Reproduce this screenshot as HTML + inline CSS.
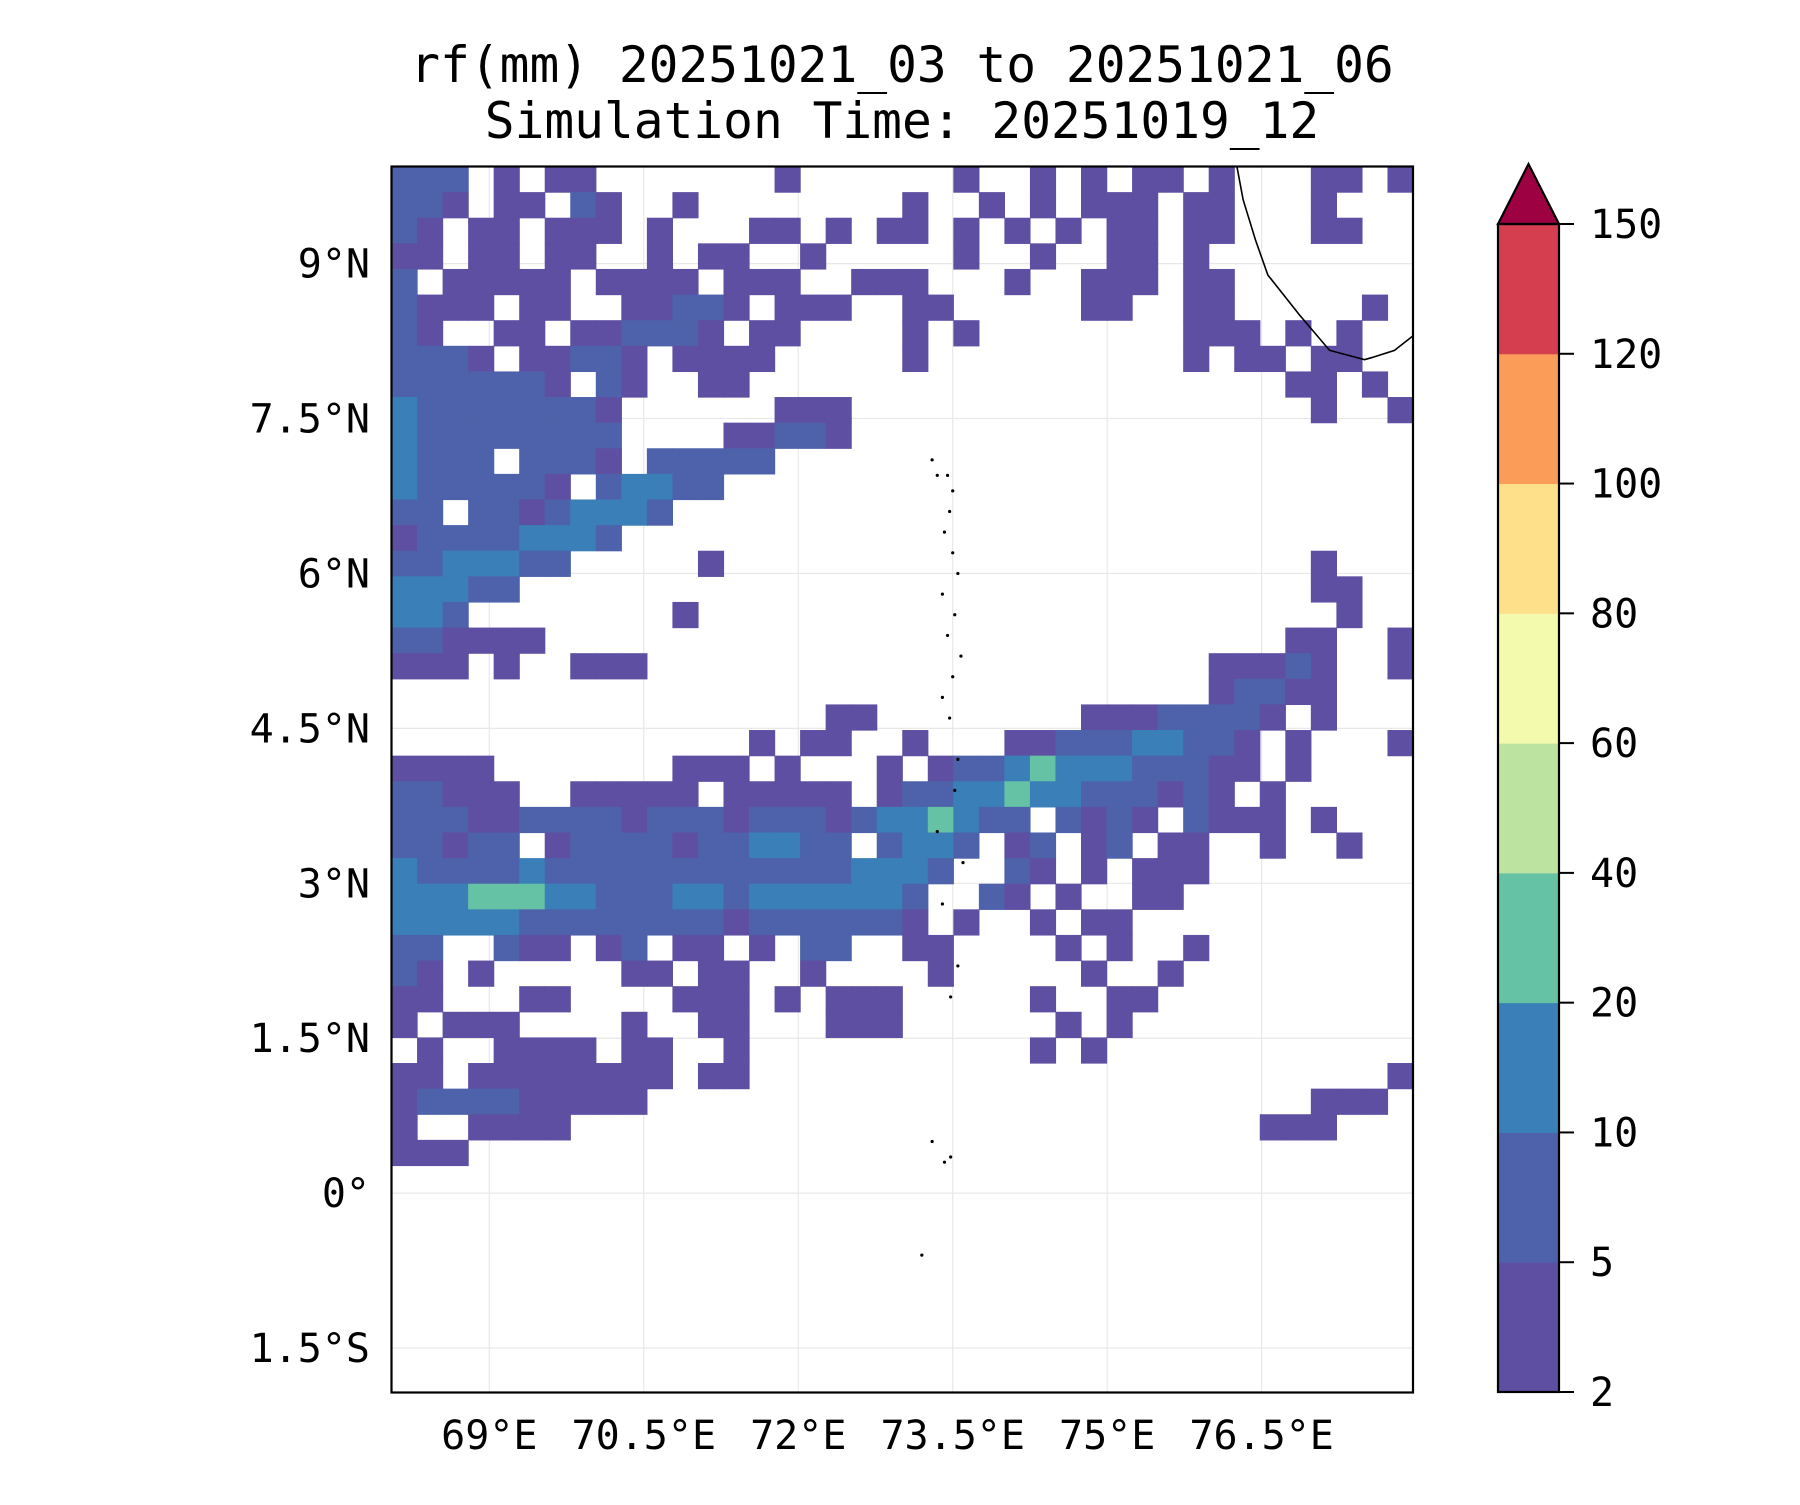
<!DOCTYPE html>
<html><head><meta charset="utf-8"><style>
html,body{margin:0;padding:0;background:#fff;}
svg text{font-family:"DejaVu Sans Mono","Liberation Mono",monospace;fill:#000;}
</style></head><body>
<svg id="fig" width="1800" height="1500" viewBox="0 0 1800 1500" xmlns="http://www.w3.org/2000/svg">
<rect width="1800" height="1500" fill="#fff"/>
<text x="902" y="82" font-size="49.5" text-anchor="middle">rf(mm) 20251021_03 to 20251021_06</text>
<text x="902" y="138" font-size="49.5" text-anchor="middle">Simulation Time: 20251019_12</text>
<g id="grid"></g>
<g id="cells"></g>
<g id="coast"></g>
<rect x="391.5" y="166.5" width="1021.5" height="1226" fill="none" stroke="#000" stroke-width="2.2"/>
<g id="xt"></g>
<g id="yt"></g>
<g id="cbar"></g>
</svg>
<script>
const levels=[2,5,10,20,40,60,80,100,120,150];
const levelColors=["#5e4fa2","#4e62ab","#3a7fb8","#66c2a5","#bce4a0","#f3faad","#fee08b","#fb9d59","#d53e4f"];
const extendColor="#9e0142";
const lonTicks=[69,70.5,72,73.5,75,76.5];
const lonTickLabels=["69°E","70.5°E","72°E","73.5°E","75°E","76.5°E"];
const latTicks=[9,7.5,6,4.5,3,1.5,0,-1.5];
const latTickLabels=["9°N","7.5°N","6°N","4.5°N","3°N","1.5°N","0°","1.5°S"];
const lonMin=68.05, lonMax=77.97, latMax=9.94, latMin=-1.93;
const gridLon0=68.05, gridLat0=9.94, cellDeg=0.248;
// rainfall level index per cell ('.' = below 2mm), rows from north to south, 40 cols
const rainRows=[
"222.1.11.. .....1.... ..1..1.1.1 1.1...11.1",
"221.11.21. .1........ 1..1.1.111 .11...1...",
"21.11.111. 1...11.1.1 1.1.1.1.11 .11...11..",
"11.11.11.. 1.11..1... ..1..1..11 .1........",
"2.11111.11 11.111..11 1...1..111 .11.......",
"2111.11..1 1221.111.. 11.....11. .11.....1.",
"21..11.112 221.11.... 1.1....... .111.1.1..",
"2221.11221 .1111..... 1......... .1.11.11..",
"2222221.21 ..11...... .......... .....11.1.",
"322222221. .....111.. .......... ......1..1",
"322222222. ...11221.. .......... ..........",
"3222.2221. 22222..... .......... ..........",
"3222221.23 322....... .......... ..........",
"22.2212333 2......... .......... ..........",
"122223332. .......... .......... ..........",
"2233322... ..1....... .......... ......1...",
"33322..... .......... .......... ......11..",
"332....... .1........ .......... .......1..",
"221111.... .......... .......... .....11..1",
"111.1..111 .......... .......... ..11121..1",
".......... .......... .......... ..12211...",
".......... .......11. .......111 22221.1...",
".......... ....1.11.. 1...112223 3221.1...1",
"1111...... .111.1...1 .122343332 2211.1....",
"22111..111 11.11111.1 2233433222 121.1.....",
"2221122221 2221222123 34322.2121 .2111.1...",
"22122.1222 21223322.2 332.12.12. 11..1..1..",
"3222232222 2222222233 32..21.1.1 11........",
"3334443322 2332333333 2..21.1..1 1.........",
"3333322222 2221222222 1.1..1.11. ..........",
"22..211.12 .11.1.22.. 11....1.1. .1........",
"21.1.....1 1.11..1... .1.....1.. 1.........",
"11...11... .111.1.111 .....1..11 ..........",
"1.111....1 ..11...111 ......1.1. ..........",
".1..1111.1 1..1...... .....1.1.. ..........",
"11.1111111 1.11...... .......... .........1",
"1222211111 .......... .......... ......111.",
"1..1111... .......... .......... ....111...",
"111....... .......... .......... ..........",
];
const coastLon=[76.26,76.32,76.44,76.56,76.87,77.16,77.5,77.57,77.79,77.97];
const coastLat=[9.94,9.62,9.23,8.89,8.5,8.16,8.07,8.09,8.16,8.3];
const islandLon=[73.3,73.35,73.45,73.5,73.47,73.42,73.5,73.55,73.4,73.52,73.45,73.58,73.5,73.4,73.47,73.55,73.52,73.35,73.6,73.4,73.55,73.48,73.3,73.42,73.48,73.2];
const islandLat=[7.1,6.95,6.95,6.8,6.6,6.4,6.2,6.0,5.8,5.6,5.4,5.2,5.0,4.8,4.6,4.2,3.9,3.5,3.2,2.8,2.2,1.9,0.5,0.3,0.35,-0.6];

const NS="http://www.w3.org/2000/svg";
const X=lon=>391.5+(lon-lonMin)/(lonMax-lonMin)*1021.5;
const Y=lat=>166.5+(latMax-lat)/(latMax-latMin)*1226;
function mk(tag,attrs,parent){const e=document.createElementNS(NS,tag);for(const k in attrs)e.setAttribute(k,attrs[k]);parent.appendChild(e);return e;}
const grid=document.getElementById('grid');
lonTicks.forEach(v=>{const l=mk('line',{x1:X(v),x2:X(v),y1:166.5,y2:1392.5,stroke:'#e8e8e8','stroke-width':1.2},grid);

});
latTicks.forEach(v=>{const l=mk('line',{x1:391.5,x2:1413,y1:Y(v),y2:Y(v),stroke:'#e8e8e8','stroke-width':1.2},grid);

});
const cells=document.getElementById('cells');
rainRows.forEach((row,r)=>{
  const s=row.replace(/ /g,'').padEnd(40,'.');
  for(let c=0;c<40;c++){const ch=s[c];if(ch==='.')continue;const k=+ch-1;
    const lonA=gridLon0+c*cellDeg, lonB=Math.min(lonA+cellDeg,lonMax);
    const latA=gridLat0-r*cellDeg, latB=latA-cellDeg;
    const e=mk('rect',{x:X(lonA),y:Y(latA),width:X(lonB)-X(lonA)+0.6,height:Y(latB)-Y(latA)+0.6,fill:levelColors[k]},cells);
    
    }
});
const coast=document.getElementById('coast');
const cp=coastLon.map((v,i)=>X(Math.min(v,lonMax))+','+Y(coastLat[i])).join(' ');
const cl=mk('polyline',{points:cp,fill:'none',stroke:'#000','stroke-width':1.6},coast);


islandLon.forEach((v,i)=>{const d=mk('circle',{cx:X(v),cy:Y(islandLat[i]),r:1.6,fill:'#000'},coast);

});
const xt=document.getElementById('xt');
lonTicks.forEach((v,i)=>{const t=mk('text',{x:X(v),y:1449,'font-size':40,'text-anchor':'middle'},xt);t.textContent=lonTickLabels[i];

});
const yt=document.getElementById('yt');
latTicks.forEach((v,i)=>{const t=mk('text',{x:370,y:Y(v)+14,'font-size':40,'text-anchor':'end'},yt);t.textContent=latTickLabels[i];

});
const cb=document.getElementById('cbar');
const cbX=1498,cbW=61,cbBot=1392,cbTop=224;
const CY=i=>cbBot-i*(cbBot-cbTop)/(levels.length-1);
levelColors.forEach((col,i)=>{const r=mk('rect',{x:cbX,y:CY(i+1),width:cbW,height:CY(i)-CY(i+1)+0.5,fill:col},cb);

});
const tri=mk('polygon',{points:`${cbX},${cbTop} ${cbX+cbW/2},164 ${cbX+cbW},${cbTop}`,fill:extendColor,stroke:'#000','stroke-width':2.2},cb);


const fr=mk('rect',{x:cbX,y:cbTop,width:cbW,height:cbBot-cbTop,fill:'none',stroke:'#000','stroke-width':2.2},cb);


levels.forEach((v,i)=>{const y=CY(i);
  const tk=mk('line',{x1:cbX+cbW,x2:cbX+cbW+15,y1:y,y2:y,stroke:'#000','stroke-width':2},cb);
  
  
  const t=mk('text',{x:1590,y:y+14,'font-size':40},cb);t.textContent=v;
  
  });
</script>
</body></html>
